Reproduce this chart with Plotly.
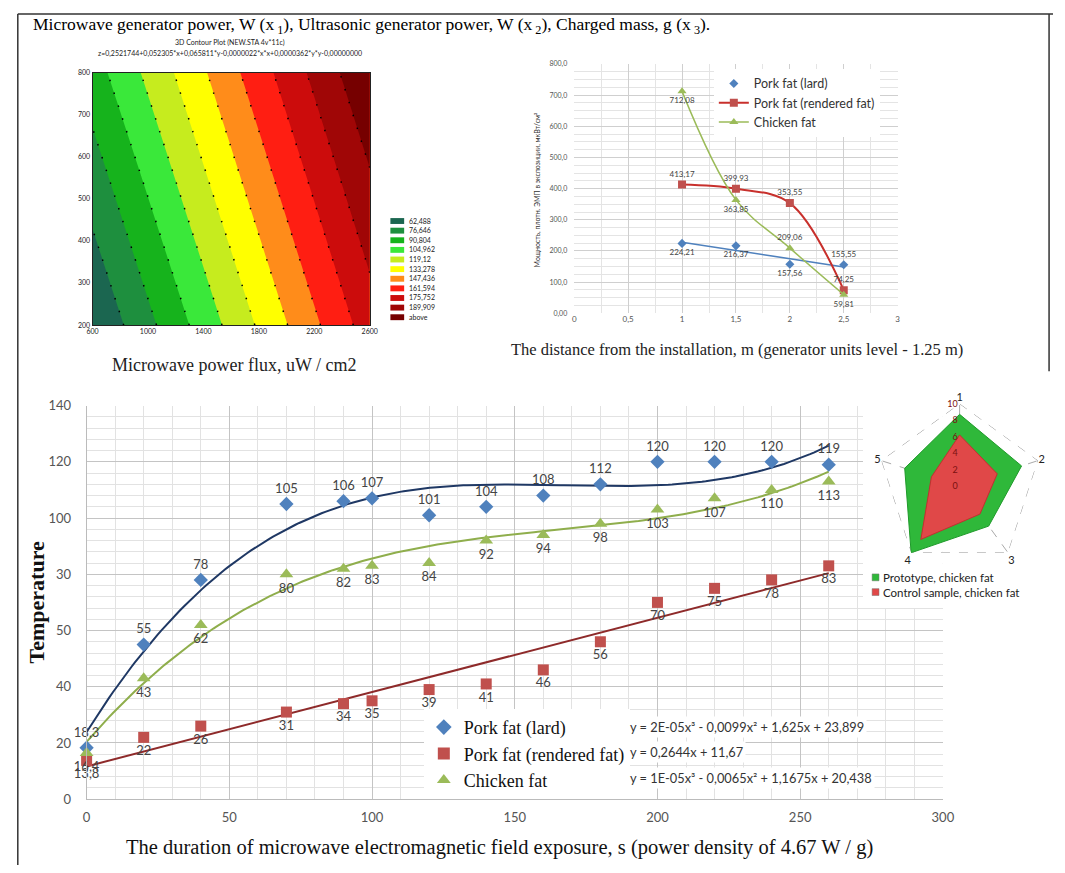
import numpy as np
import plotly.graph_objects as go

W, H = 1065, 873


def px(x):
    return x / W


def py(y):
    return 1 - y / H


SERIF = "Liberation Serif, Times New Roman, serif"
SANS = "Lato, Liberation Sans, sans-serif"

# ---------------- Bottom chart data ----------------
time_s = [0, 20, 40, 70, 90, 100, 120, 140, 160, 180, 200, 220, 240, 260]
lard_temp = [18.3, 55, 78, 105, 106, 107, 101, 104, 108, 112, 120, 120, 120, 119]
rendered_temp = [13.8, 22, 26, 31, 34, 35, 39, 41, 46, 56, 70, 75, 78, 83]
chicken_temp = [16.4, 43, 62, 80, 82, 83, 84, 92, 94, 98, 103, 107, 110, 113]
lard_labels = ["18,3", "55", "78", "105", "106", "107", "101", "104", "108", "112", "120", "120", "120", "119"]
rendered_labels = ["13,8", "22", "26", "31", "34", "35", "39", "41", "46", "56", "70", "75", "78", "83"]
chicken_labels = ["16,4", "43", "62", "80", "82", "83", "84", "92", "94", "98", "103", "107", "110", "113"]
temp_ticks = [0, 20, 40, 60, 80, 100, 120, 140]
temp_ticktext = ["0", "20", "40", "50", "30", "100", "120", "140"]
time_ticks = [0, 50, 100, 150, 200, 250, 300]
series_names = ["Pork fat (lard)", "Pork fat (rendered fat)", "Chicken fat"]
equations = [
    "y = 2E-05x³ - 0,0099x² + 1,625x + 23,899",
    "y = 0,2644x + 11,67",
    "y = 1E-05x³ - 0,0065x² + 1,1675x + 20,438",
]

# ---------------- Top-right chart data ----------------
distance_m = [1, 1.5, 2, 2.5]
dist_lard = [224.21, 216.37, 157.56, 155.55]
dist_rendered = [413.17, 399.93, 353.55, 74.25]
dist_chicken = [712.08, 363.85, 209.06, 59.81]
dist_ticks = [0, 0.5, 1, 1.5, 2, 2.5, 3]
dist_ticktext = ["0", "0,5", "1", "1,5", "2", "2,5", "3"]
flux_ticks = [0, 100, 200, 300, 400, 500, 600, 700, 800]
flux_ticktext = ["0,00", "100,0", "200,0", "300,0", "400,0", "500,0", "600,0", "700,0", "800,0"]

# ---------------- Contour data ----------------
power_x = [600, 1600, 2600]
power_y = [200, 500, 800]
z_grid = [
    [49.0, 108.9, 168.7],
    [66.7, 126.3, 185.7],
    [84.4, 143.5, 202.7],
]
level_start = 62.488
level_step = 14.158
level_end = 189.91
level_labels = ["62,488", "76,646", "90,804", "104,962", "119,12", "133,278",
                "147,436", "161,594", "175,752", "189,909", "above"]
level_colors = ["#1b6650", "#1e8f3e", "#16b31c", "#3ae83a", "#c6ec1e", "#ffff00",
                "#ff8c1a", "#ff1e12", "#cc0c0c", "#a00606", "#760000"]
contour_xticks = [600, 1000, 1400, 1800, 2200, 2600]
contour_yticks = [200, 300, 400, 500, 600, 700, 800]

# ---------------- Radar data ----------------
radar_axes = ["1", "2", "3", "4", "5"]
prototype = [8.7, 7.9, 6.0, 10.0, 7.0]
control = [6.2, 4.8, 4.2, 8.0, 3.6]
radar_max = 10
radar_names = ["Prototype, chicken fat", "Control sample, chicken fat"]
radar_colors = ["#2fb83a", "#e04848"]
radar_lines = ["#1f9a2a", "#c23030"]

BLUE, RED, GREEN = "#4f81bd", "#c0504d", "#9bbb59"

fig = go.Figure()

# ---- contour ----
fig.add_trace(go.Contour(
    x=power_x, y=power_y, z=z_grid, autocontour=False,
    contours=dict(start=level_start, end=level_end, size=level_step, coloring="fill", showlines=True),
    colorscale=[[i / (len(level_colors) - 1), c] for i, c in enumerate(level_colors)],
    line=dict(color="black", width=1.5, dash="1.5px,12px"),
    showscale=False, hoverinfo="skip", xaxis="x", yaxis="y", showlegend=False,
))

# ---- top-right chart ----
lard_fit = np.polyfit(distance_m, dist_lard, 1)
xs_d = np.linspace(distance_m[0], distance_m[-1], 20)
fig.add_trace(go.Scatter(x=xs_d, y=np.polyval(lard_fit, xs_d), mode="lines",
                         line=dict(color=BLUE, width=1.5), xaxis="x2", yaxis="y2",
                         showlegend=False, hoverinfo="skip"))
fig.add_trace(go.Scatter(x=distance_m, y=dist_lard, mode="markers+text", name=series_names[0],
                         marker=dict(symbol="diamond", size=7, color=BLUE),
                         text=[f"{v:.2f}".replace(".", ",") for v in dist_lard],
                         textposition=["bottom center", "bottom center", "bottom center", "top center"],
                         textfont=dict(size=8, color="#444", family=SANS),
                         xaxis="x2", yaxis="y2", legend="legend2"))
fig.add_trace(go.Scatter(x=distance_m, y=dist_rendered, mode="lines+markers+text", name=series_names[1],
                         line=dict(color="#c8302c", width=2, shape="spline"),
                         marker=dict(symbol="square", size=8, color=RED),
                         text=[f"{v:.2f}".replace(".", ",") for v in dist_rendered],
                         textposition="top center",
                         textfont=dict(size=8, color="#444", family=SANS),
                         xaxis="x2", yaxis="y2", legend="legend2"))
fig.add_trace(go.Scatter(x=distance_m, y=dist_chicken, mode="lines+markers+text", name=series_names[2],
                         line=dict(color=GREEN, width=1.5, shape="spline"),
                         marker=dict(symbol="triangle-up", size=8, color=GREEN),
                         text=[f"{v:.2f}".replace(".", ",") for v in dist_chicken],
                         textposition=["bottom center", "bottom center", "top center", "bottom center"],
                         textfont=dict(size=8, color="#444", family=SANS),
                         xaxis="x2", yaxis="y2", legend="legend2"))

# ---- bottom chart ----
xs_t = np.linspace(0, time_s[-1], 200)
fits = [
    (np.polyfit(time_s, lard_temp, 3), "#1f3864"),
    (np.polyfit(time_s, rendered_temp, 1), "#8e2a2a"),
    (np.polyfit(time_s, chicken_temp, 3), "#8fae4c"),
]
for coef, col in fits:
    fig.add_trace(go.Scatter(x=xs_t, y=np.polyval(coef, xs_t), mode="lines",
                             line=dict(color=col, width=2), xaxis="x3", yaxis="y3",
                             showlegend=False, hoverinfo="skip"))

fig.add_trace(go.Scatter(x=time_s, y=lard_temp, mode="markers+text", name=series_names[0],
                         marker=dict(symbol="diamond", size=11, color=BLUE),
                         text=lard_labels, textposition="top center", cliponaxis=False,
                         textfont=dict(size=13, color="#444", family=SANS),
                         xaxis="x3", yaxis="y3", legend="legend"))
fig.add_trace(go.Scatter(x=time_s, y=rendered_temp, mode="markers+text", name=series_names[1],
                         marker=dict(symbol="square", size=11, color=RED),
                         text=rendered_labels, textposition="bottom center", cliponaxis=False,
                         textfont=dict(size=13, color="#444", family=SANS),
                         xaxis="x3", yaxis="y3", legend="legend"))
fig.add_trace(go.Scatter(x=time_s, y=chicken_temp, mode="markers+text", name=series_names[2],
                         marker=dict(symbol="triangle-up", size=12, color=GREEN),
                         text=chicken_labels, textposition="bottom center", cliponaxis=False,
                         textfont=dict(size=13, color="#444", family=SANS),
                         xaxis="x3", yaxis="y3", legend="legend"))

# ---- radar ----
closed_axes = radar_axes + radar_axes[:1]
fig.add_trace(go.Scatterpolar(r=[radar_max] * len(closed_axes), theta=closed_axes, mode="lines",
                              line=dict(color="#999", width=1, dash="dash"),
                              showlegend=False, hoverinfo="skip"))
for vals, fc, lc in zip([prototype, control], radar_colors, radar_lines):
    fig.add_trace(go.Scatterpolar(r=vals + vals[:1], theta=closed_axes, fill="toself",
                                  mode="lines", showlegend=False,
                                  line=dict(color=lc, width=1), fillcolor=fc))

shapes = []
annotations = []

# white box hiding grid behind radar
shapes.append(dict(type="rect", xref="x3", yref="y3", x0=272, x1=300, y0=68, y1=140,
                   fillcolor="white", line=dict(width=0), layer="between"))

# frame lines
shapes.append(dict(type="line", xref="paper", yref="paper", x0=px(12), x1=1, y0=py(6), y1=py(6),
                   line=dict(color="#333", width=1.5)))
shapes.append(dict(type="line", xref="paper", yref="paper", x0=px(12), x1=px(12), y0=py(6), y1=0,
                   line=dict(color="#333", width=1.5)))
shapes.append(dict(type="line", xref="paper", yref="paper", x0=px(1061), x1=px(1061), y0=py(6), y1=py(370),
                   line=dict(color="#333", width=1.5)))

# contour legend
for i, (lab, col) in enumerate(zip(level_labels, level_colors)):
    yc = 217 + i * 9.8
    shapes.append(dict(type="rect", xref="paper", yref="paper", x0=px(391), x1=px(405),
                       y0=py(yc + 3), y1=py(yc - 3), fillcolor=col, line=dict(width=0)))
    annotations.append(dict(x=px(408), y=py(yc), text=lab,
                            font=dict(size=7, family=SANS, color="#222")))

# radar legend
for i, (name, col) in enumerate(zip(radar_names, radar_colors)):
    yc = 580 + i * 15
    shapes.append(dict(type="rect", xref="paper", yref="paper", x0=px(881), x1=px(888),
                       y0=py(yc + 3.5), y1=py(yc - 3.5), fillcolor=col,
                       line=dict(color="#777", width=0.5)))
    annotations.append(dict(x=px(890), y=py(yc), text=name,
                            font=dict(size=11.5, family=SANS, color="#222")))

# texts
annotations += [
    dict(x=px(25), y=py(18), text="Microwave generator power, W (x<sub> 1</sub>), Ultrasonic generator power, W (x<sub> 2</sub>), Charged mass, g (x<sub> 3</sub>).",
         font=dict(size=17.5, family=SERIF, color="black")),
    dict(x=px(228), y=py(35), text="3D Contour Plot (NEW.STA 4v*11c)", xanchor="center",
         font=dict(size=7, family=SANS, color="#222")),
    dict(x=px(228), y=py(46), xanchor="center",
         text="z=0,2521744+0,052305*x+0,065811*y-0,0000022*x*x+0,0000362*y*y-0,00000000",
         font=dict(size=7, family=SANS, color="#222")),
    dict(x=px(232), y=py(364), xanchor="center", text="Microwave power flux, uW / cm2",
         font=dict(size=18, family=SERIF, color="#222")),
    dict(x=px(744), y=py(348), xanchor="center",
         text="The distance from the installation, m (generator units level - 1.25 m)",
         font=dict(size=16.5, family=SERIF, color="#222")),
    dict(x=px(541), y=py(185), xanchor="center", textangle=-90,
         text="Мощность, плотн. ЭМП в экспозиции, мкВт/см²",
         font=dict(size=7, family=SANS, color="#333")),
    dict(x=px(502), y=py(855), xanchor="center",
         text="The duration of microwave electromagnetic field exposure, s (power density of 4.67 W / g)",
         font=dict(size=20.5, family=SERIF, color="#111")),
    dict(x=px(31), y=py(605), xanchor="center", textangle=-90, text="<b>Temperature</b>",
         font=dict(size=22, family=SERIF, color="#111")),
]
for i, eq in enumerate(equations):
    annotations.append(dict(x=px(632), y=py(732 + i * 26), text=eq, xanchor="left",
                            bgcolor="white", borderpad=2,
                            font=dict(size=12.8, family=SANS, color="#333")))
for a in annotations:
    a.setdefault("xref", "paper")
    a.setdefault("yref", "paper")
    a.setdefault("showarrow", False)
    a.setdefault("xanchor", "left")
    a.setdefault("yanchor", "middle")

fig.update_layout(
    width=W, height=H, margin=dict(l=0, r=0, t=0, b=0),
    paper_bgcolor="white", plot_bgcolor="white", hovermode=False,
    font=dict(family=SANS),
    shapes=shapes, annotations=annotations,
    # contour axes
    xaxis=dict(domain=[px(88), px(370)], range=[600, 2600], tickvals=contour_xticks,
               tickfont=dict(size=7, color="#222"), showgrid=False, zeroline=False,
               showline=True, mirror=True, linecolor="#222", linewidth=1, ticks="", anchor="y"),
    yaxis=dict(domain=[py(323), py(66)], range=[200, 800], tickvals=contour_yticks,
               tickfont=dict(size=7, color="#222"), showgrid=False, zeroline=False,
               showline=True, mirror=True, linecolor="#222", linewidth=1, ticks="", anchor="x"),
    # top-right axes
    xaxis2=dict(domain=[px(578), px(907)], range=[0, 3], tickvals=dist_ticks, ticktext=dist_ticktext,
                tickfont=dict(size=8, color="#555"), showgrid=True, gridcolor="#cfcfcf",
                minor=dict(dtick=0.25, showgrid=True, gridcolor="#e4e4e4"),
                zeroline=False, showline=False, ticks="", anchor="y2"),
    yaxis2=dict(domain=[py(311), py(57)], range=[0, 800], tickvals=flux_ticks, ticktext=flux_ticktext,
                tickfont=dict(size=7, color="#555"), showgrid=True, gridcolor="#cfcfcf",
                minor=dict(dtick=25, showgrid=True, gridcolor="#e4e4e4"),
                zeroline=False, showline=False, ticks="", anchor="x2", ticklabelstandoff=6),
    # bottom axes
    xaxis3=dict(domain=[px(82), px(953)], range=[0, 300], tickvals=time_ticks,
                tickfont=dict(size=13, color="#555", family=SANS), showgrid=True, gridcolor="#c4c4c4",
                minor=dict(dtick=10, showgrid=True, gridcolor="#e2e2e2"),
                zeroline=False, showline=True, linecolor="#bbb", ticks="", anchor="y3",
                ticklabelstandoff=6),
    yaxis3=dict(domain=[py(806), py(405)], range=[0, 140], tickvals=temp_ticks, ticktext=temp_ticktext,
                tickfont=dict(size=13, color="#555", family=SANS), showgrid=True, gridcolor="#c4c4c4",
                minor=dict(dtick=4, showgrid=True, gridcolor="#e2e2e2"),
                zeroline=False, showline=True, linecolor="#bbb", ticks="", anchor="x3",
                ticklabelstandoff=12),
    polar=dict(
        domain=dict(x=[px(886), px(1054)], y=[py(571), py(403)]),
        bgcolor="rgba(0,0,0,0)",
        gridshape="linear",
        radialaxis=dict(range=[0, radar_max], tickvals=[0, 2, 4, 6, 8, 10], showgrid=False,
                        showline=False, angle=90, tickangle=90, ticks="", side="counterclockwise",
                        tickfont=dict(size=9, color="#7a1010")),
        angularaxis=dict(direction="clockwise", rotation=90, showline=False,
                         gridcolor="#aaa", griddash="dash", ticks="",
                         tickfont=dict(size=11, color="#222")),
    ),
    legend=dict(x=px(425), y=py(714), xanchor="left", yanchor="top", bgcolor="white",
                font=dict(size=18, family=SERIF, color="#111"), tracegroupgap=0,
                itemsizing="constant"),
    legend2=dict(x=px(720), y=py(62), xanchor="left", yanchor="top", bgcolor="white",
                 font=dict(size=12.5, family=SANS, color="#333")),
)

fig.write_html("out.html")
